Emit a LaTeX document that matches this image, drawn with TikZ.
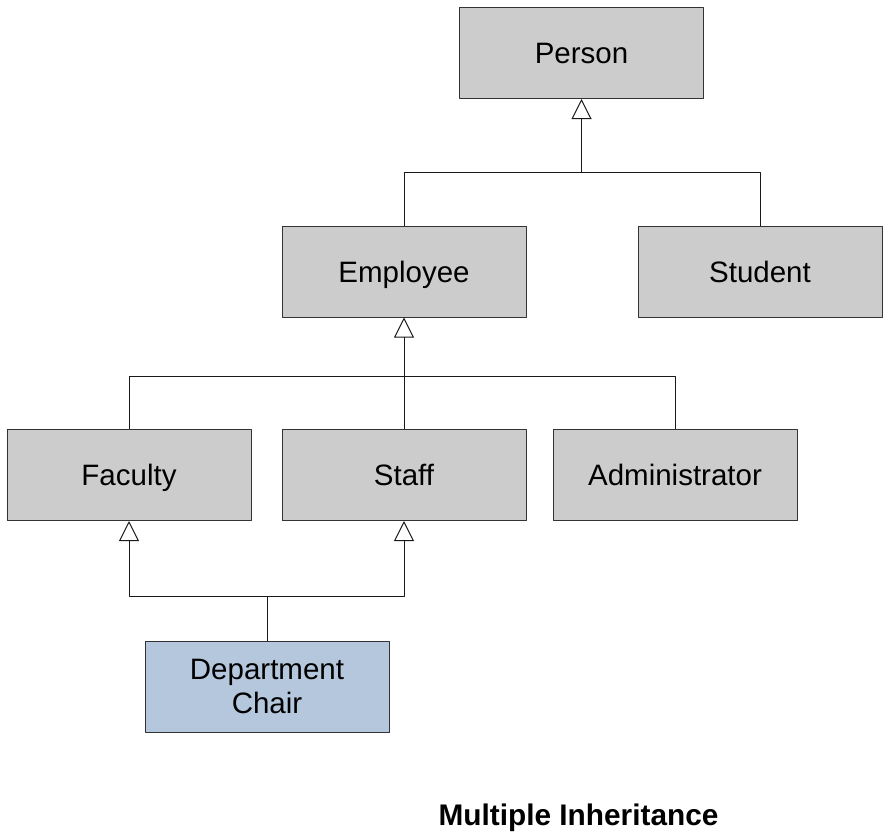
\documentclass[tikz,border=0pt]{standalone}
\usepackage{fontspec}
\setmainfont{Liberation Sans}
\usetikzlibrary{arrows.meta}
\begin{document}
\begin{tikzpicture}[x=1pt,y=-1pt, line join=round,
	font=\fontsize{29.5}{34}\selectfont,
	cls/.style={draw=black!80, fill=black!20, line width=1pt, minimum width=244, minimum height=91, inner sep=0pt, align=center, text height=21pt, text depth=0pt},
	inherit/.style={-{Triangle[open,width=20pt,length=20pt,line width=1pt]}},
	link/.style={line width=1pt, black!90}]
	\def\wa{172} \def\wb{376} \def\wc{596}
	\useasboundingbox (0,0) rectangle (888,835);
	\node[cls] (person) at (581.5,53) {Person};
	\node[cls] (employee) at (404,271.5) {Employee};
	\node[cls] (student) at (760,271.5) {Student};
	\node[cls] (faculty) at (129,475) {Faculty};
	\node[cls] (staff) at (404,475) {Staff};
	\node[cls] (admin) at (675,475) {Administrator};
	\node[cls, text height={}, text depth={}, fill={rgb,255:red,180;green,199;blue,220}] (chair) at (267,686.5) {Department\\Chair};
	\coordinate (ja) at (581.5,\wa);
	\coordinate (jb) at (404,\wb);
	\coordinate (jc) at (267,\wc);
	% Person
	\draw[link] (employee.north) |- (ja);
	\draw[link] (student.north) |- (ja);
	\draw[link,inherit] (ja) -- (person.south);
	% Employee
	\draw[link] (faculty.north) |- (jb);
	\draw[link] (admin.north) |- (jb);
	\draw[link] (staff.north) -- (jb);
	\draw[link,inherit] (jb) -- (employee.south);
	% Department Chair
	\draw[link,inherit] (chair.north) -- (jc) -| (faculty.south);
	\draw[link,inherit] (jc) -| (staff.south);
	\node[anchor=base, font=\fontsize{29.8}{34}\selectfont\bfseries] (title) at (578.5,825) {Multiple Inheritance};
\end{tikzpicture}
\end{document}
